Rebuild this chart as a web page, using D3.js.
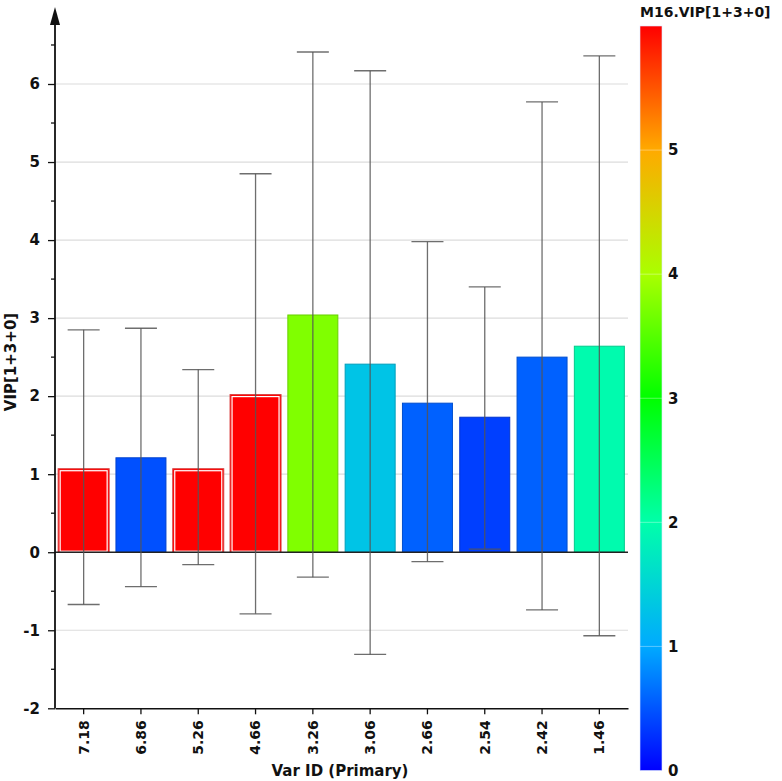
<!DOCTYPE html>
<html>
<head>
<meta charset="utf-8">
<script src="https://cdn.jsdelivr.net/npm/d3@7"></script>
<style>
  html, body { margin: 0; padding: 0; background: #fff; }
  text { font-family: "DejaVu Sans", "Noto Sans", sans-serif; font-weight: bold; fill: #111; }
</style>
</head>
<body>
<svg id="chart" width="782" height="781"></svg>
<script>
// ---- data ----
const categories = ["7.18", "6.86", "5.26", "4.66", "3.26", "3.06", "2.66", "2.54", "2.42", "1.46"];
const vipValues  = [1.07, 1.21, 1.07, 2.02, 3.04, 2.41, 1.91, 1.73, 2.50, 2.64];
const errUpper   = [2.85, 2.87, 2.34, 4.85, 6.41, 6.17, 3.98, 3.40, 5.77, 6.36];
const errLower   = [-0.67, -0.44, -0.16, -0.79, -0.32, -1.31, -0.12, 0.04, -0.74, -1.07];
const colorValues = [6.5, 0.47, 6.5, 6.5, 3.75, 1.3, 0.57, 0.37, 0.57, 1.95];
const yTicks = [-2, -1, 0, 1, 2, 3, 4, 5, 6];
const colorTicks = [0, 1, 2, 3, 4, 5];
const yLabel = "VIP[1+3+0]";
const xLabel = "Var ID (Primary)";
const colorTitle = "M16.VIP[1+3+0]";

// ---- layout ----
const FONT = "DejaVu Sans";
const svg = d3.select("#chart");
const plotLeft = 55, plotRight = 628, plotBottom = 708.3;
const y = d3.scaleLinear().domain([-2, 6]).range([plotBottom, 84]);
const x = d3.scaleBand().domain(categories).range([plotLeft, plotRight]).paddingInner(0.11).paddingOuter(0.055);
const colorMax = 6;
const keyColors = d3.range(0, 7).map(k => d3.hsl(240 - 40 * k, 1, 0.5).toString());
const cLin = d3.scaleLinear().domain(d3.range(0, 7)).range(keyColors).interpolate(d3.interpolateRgb).clamp(true);
const cScale = v => d3.color(cLin(v));
const cbY = d3.scaleLinear().domain([0, 6]).range([770.5, 26]);

// gridlines
svg.append("g").selectAll("line").data(yTicks.filter(t => t !== 0 && t !== -2)).join("line")
  .attr("x1", plotLeft).attr("x2", plotRight)
  .attr("y1", d => y(d)).attr("y2", d => y(d))
  .attr("stroke", "#dcdcdc").attr("stroke-width", 1.2);

// bars
const bars = svg.append("g");
categories.forEach((c, i) => {
  const v = vipValues[i];
  const col = cScale(colorValues[i]);
  const x0 = x(c), w = x.bandwidth();
  const yt = y(Math.max(0, v)), yb = y(Math.min(0, v));
  if (colorValues[i] > colorMax) {
    bars.append("rect").attr("x", x0).attr("y", yt).attr("width", w).attr("height", yb - yt)
      .attr("fill", "#ff0000").attr("stroke", "#d94040").attr("stroke-width", 1);
    bars.append("rect").attr("x", x0 + 2).attr("y", yt + 2).attr("width", w - 4).attr("height", yb - yt - 3)
      .attr("fill", "none").attr("stroke", "#ffffff").attr("stroke-width", 1.2);
  } else {
    bars.append("rect").attr("x", x0 + 0.5).attr("y", yt).attr("width", w - 1).attr("height", yb - yt)
      .attr("fill", col.toString()).attr("stroke", col.darker(0.6).toString()).attr("stroke-width", 1);
  }
});

// zero line
svg.append("line").attr("x1", plotLeft).attr("x2", plotRight).attr("y1", y(0)).attr("y2", y(0))
  .attr("stroke", "#222").attr("stroke-width", 1.5);

// error bars
const eb = svg.append("g").attr("stroke", "#555").attr("stroke-opacity", 0.85).attr("stroke-width", 1.3);
categories.forEach((c, i) => {
  const cx = x(c) + x.bandwidth() / 2;
  eb.append("line").attr("x1", cx).attr("x2", cx).attr("y1", y(errUpper[i])).attr("y2", y(errLower[i]));
  [errUpper[i], errLower[i]].forEach(v => {
    eb.append("line").attr("x1", cx - 16).attr("x2", cx + 16).attr("y1", y(v)).attr("y2", y(v));
  });
});

// y axis
const yAxisG = svg.append("g").attr("transform", `translate(${plotLeft},0)`);
yAxisG.call(d3.axisLeft(y).tickValues(yTicks).tickSize(7).tickFormat(d => String(d)));
yAxisG.select(".domain").remove();
yAxisG.selectAll(".tick line").attr("stroke", "#111").attr("stroke-width", 1.3);
yAxisG.selectAll(".tick text").attr("x", -15).attr("font-size", 15).attr("font-family", FONT).attr("font-weight", "bold").attr("fill", "#111");
// minor ticks
const minor = d3.range(-1.5, 7, 1);
yAxisG.append("g").selectAll("line").data(minor).join("line")
  .attr("x1", -4).attr("x2", 0).attr("y1", d => y(d)).attr("y2", d => y(d))
  .attr("stroke", "#111").attr("stroke-width", 1.3);
// axis line + arrow
svg.append("line").attr("x1", plotLeft).attr("x2", plotLeft).attr("y1", 22).attr("y2", plotBottom)
  .attr("stroke", "#111").attr("stroke-width", 1.8);
svg.append("path").attr("d", `M${plotLeft},7 L${plotLeft - 5},25 L${plotLeft + 5},25 Z`).attr("fill", "#111");

// x axis
const xAxisG = svg.append("g").attr("transform", `translate(0,${plotBottom})`);
xAxisG.call(d3.axisBottom(x).tickSize(6).tickSizeOuter(0));
xAxisG.select(".domain").attr("stroke", "#111").attr("stroke-width", 1.5);
xAxisG.selectAll(".tick line").attr("stroke", "#111").attr("stroke-width", 1.3);
xAxisG.selectAll(".tick text")
  .attr("transform", "rotate(-90)")
  .attr("x", -12).attr("y", 0).attr("dy", "0.35em")
  .attr("text-anchor", "end")
  .attr("font-size", 14).attr("font-family", FONT).attr("font-weight", "bold").attr("fill", "#111");

// axis titles
svg.append("text").attr("x", 340).attr("y", 776).attr("text-anchor", "middle")
  .attr("font-size", 15).text(xLabel);
svg.append("text").attr("transform", "translate(16,362) rotate(-90)").attr("text-anchor", "middle")
  .attr("font-size", 15).text(yLabel);

// color bar
const defs = svg.append("defs");
const grad = defs.append("linearGradient").attr("id", "cbgrad")
  .attr("x1", 0).attr("y1", 1).attr("x2", 0).attr("y2", 0);
d3.range(0, 6.01, 0.25).forEach(v => {
  grad.append("stop").attr("offset", v / 6).attr("stop-color", cScale(v).toString());
});
const cbX = 640, cbW = 22;
svg.append("rect").attr("x", cbX).attr("y", cbY(6)).attr("width", cbW).attr("height", cbY(0) - cbY(6))
  .attr("fill", "url(#cbgrad)").attr("stroke", "#dde6ff").attr("stroke-width", 0.6);
svg.append("g").selectAll("line").data(colorTicks.filter(t => t > 0)).join("line")
  .attr("x1", cbX).attr("x2", cbX + cbW).attr("y1", d => cbY(d)).attr("y2", d => cbY(d))
  .attr("stroke", "#ffffff").attr("stroke-opacity", 0.35).attr("stroke-width", 1);
svg.append("g").selectAll("text").data(colorTicks).join("text")
  .attr("x", cbX + cbW + 6).attr("y", d => cbY(d)).attr("dy", "0.35em")
  .attr("font-size", 15).text(d => d);
svg.append("text").attr("x", 640).attr("y", 17).attr("font-size", 14).text(colorTitle);
</script>
</body>
</html>
